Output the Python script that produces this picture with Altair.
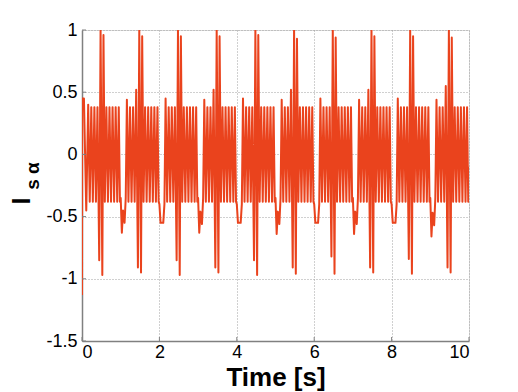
import altair as alt
import pandas as pd

# ---- data (values of turning points) ----
# times of turning points inside the gap at the start of each 1-s period
gap_tau = [0.00, 0.03, 0.06, 0.10, 0.13]
# gap values for periods 1..9 (period 0 has its own start)
gap_a = [-0.63, -0.55, -0.63, -0.55, -0.64, -0.55, -0.64, -0.55, -0.66]
gap_mid = [-0.45, -0.55, -0.46, -0.55, -0.46, -0.55, -0.46, -0.55, -0.47]
gap_b = [-0.55, -0.55, -0.56, -0.55, -0.56, -0.55, -0.56, -0.55, -0.57]
gap_edge = [-0.35, -0.40, -0.35, -0.40, -0.35, -0.40, -0.35, -0.40, -0.35]

# start of the record (period 0)
start_t = [0.000, 0.004, 0.050, 0.110]
start_v = [-1.13, 0.45, 0.45, -0.45]

# turning-point times inside each burst
burst_tau = [0.16, 0.20, 0.24, 0.28, 0.32, 0.36, 0.40, 0.445, 0.48, 0.525,
             0.555, 0.59, 0.63, 0.67, 0.71, 0.75, 0.79, 0.83, 0.87, 0.91,
             0.95, 0.98]
# per-period values of the burst's special points
first_top = [0.40, 0.44, 0.45, 0.44, 0.45, 0.44, 0.45, 0.44, 0.45, 0.44]
pre_spike = [0.38, 0.52, 0.38, 0.52, 0.38, 0.52, 0.38, 0.52, 0.38, 0.55]
spike_low1 = [-0.85, -0.91, -0.85, -0.91, -0.85, -0.91, -0.82, -0.91, -0.84, -0.91]
spike_high1 = [1.00, 1.00, 1.00, 1.00, 1.00, 1.00, 1.00, 1.00, 1.00, 1.00]
spike_low2 = [-0.97, -0.95, -0.97, -0.95, -0.97, -0.96, -0.96, -0.95, -0.96, -0.95]
spike_high2 = [0.96, 0.95, 0.95, 0.95, 0.96, 0.93, 0.94, 0.95, 0.95, 0.94]
# ordinary oscillation levels
top_level = [0.38, 0.38, 0.38, 0.38, 0.38, 0.38, 0.38, 0.38, 0.38, 0.38]
bottom_level = [-0.38, -0.38, -0.38, -0.38, -0.38, -0.38, -0.38, -0.38, -0.38, -0.38]

end_t = [10.0]
end_v = [-0.10]

x_ticks = [0, 2, 4, 6, 8, 10]
y_ticks = [-1.5, -1, -0.5, 0, 0.5, 1]

# ---- assemble the series ----
rows = []
for t, v in zip(start_t, start_v):
    rows.append({"t": t, "v": v})
for k in range(10):
    if k > 0:
        g = [gap_edge[k - 1], gap_a[k - 1], gap_mid[k - 1], gap_b[k - 1], gap_edge[k - 1]]
        for tau, v in zip(gap_tau, g):
            rows.append({"t": k + tau, "v": v})
    T, B = top_level[k], bottom_level[k]
    vals = [first_top[k], B, T, B, T, B, pre_spike[k], spike_low1[k],
            spike_high1[k], spike_low2[k], spike_high2[k], B, T, B, T, B,
            T, B, T, B, T, B]
    for tau, v in zip(burst_tau, vals):
        rows.append({"t": k + tau, "v": v})
for t, v in zip(end_t, end_v):
    rows.append({"t": t, "v": v})
df = pd.DataFrame(rows)

FONT = "Liberation Sans"
W, H = 387, 311

xscale = alt.Scale(domain=[0, 10], nice=False, zero=False)
yscale = alt.Scale(domain=[-1.5, 1], nice=False, zero=False)

line = alt.Chart(df).mark_line(color="#EA431D", strokeWidth=2.0, strokeJoin="round",
                               clip=True).encode(
    x=alt.X("t:Q", scale=xscale, axis=alt.Axis(
        values=x_ticks, labelExpr="toString(datum.value)", grid=True,
        gridDash=[1, 2], gridColor="#a0a0a0", gridWidth=1,
        domainColor="#808080", domainWidth=1.5, ticks=False,
        labelFont=FONT, labelFontSize=18, labelColor="black", labelPadding=2,
        title="Time [s]", titleFont=FONT, titleFontSize=26, titleFontWeight="bold",
        titleColor="black", titleBaseline="alphabetic", titleY=44)),
    y=alt.Y("v:Q", scale=yscale, axis=alt.Axis(
        values=y_ticks, labelExpr="toString(datum.value)", grid=True,
        gridDash=[1, 2], gridColor="#a0a0a0", gridWidth=1,
        domainColor="#808080", domainWidth=1.5, ticks=False,
        labelFont=FONT, labelFontSize=18, labelColor="black", labelPadding=5,
        title=None)),
)

xt = alt.Chart(pd.DataFrame({"t": x_ticks})).mark_rule(color="#808080", strokeWidth=1).encode(
    x=alt.X("t:Q", scale=xscale), y=alt.value(H), y2=alt.value(H - 4))
yt = alt.Chart(pd.DataFrame({"v": y_ticks})).mark_rule(color="#808080", strokeWidth=1).encode(
    y=alt.Y("v:Q", scale=yscale), x=alt.value(0), x2=alt.value(4))

title_i = alt.Chart(pd.DataFrame({"s": ["I"]})).mark_text(
    font=FONT, fontSize=25, fontWeight="bold", angle=270, align="center",
    baseline="alphabetic", color="black").encode(
    text="s:N", x=alt.value(-52), y=alt.value(171))
title_sub = alt.Chart(pd.DataFrame({"s": ["s α"]})).mark_text(
    font=FONT, fontSize=19, fontWeight="bold", angle=270, align="center",
    baseline="alphabetic", color="black").encode(
    text="s:N", x=alt.value(-43), y=alt.value(146))

chart = alt.layer(line, xt, yt, title_i, title_sub).properties(
    width=W, height=H,
    padding={"left": 74, "top": 22, "right": 41, "bottom": 50},
    autosize=alt.AutoSizeParams(type="none"),
).configure_view(stroke=None).configure(background="white")

chart.save("out.html", embed_options={"renderer": "svg", "actions": False})
